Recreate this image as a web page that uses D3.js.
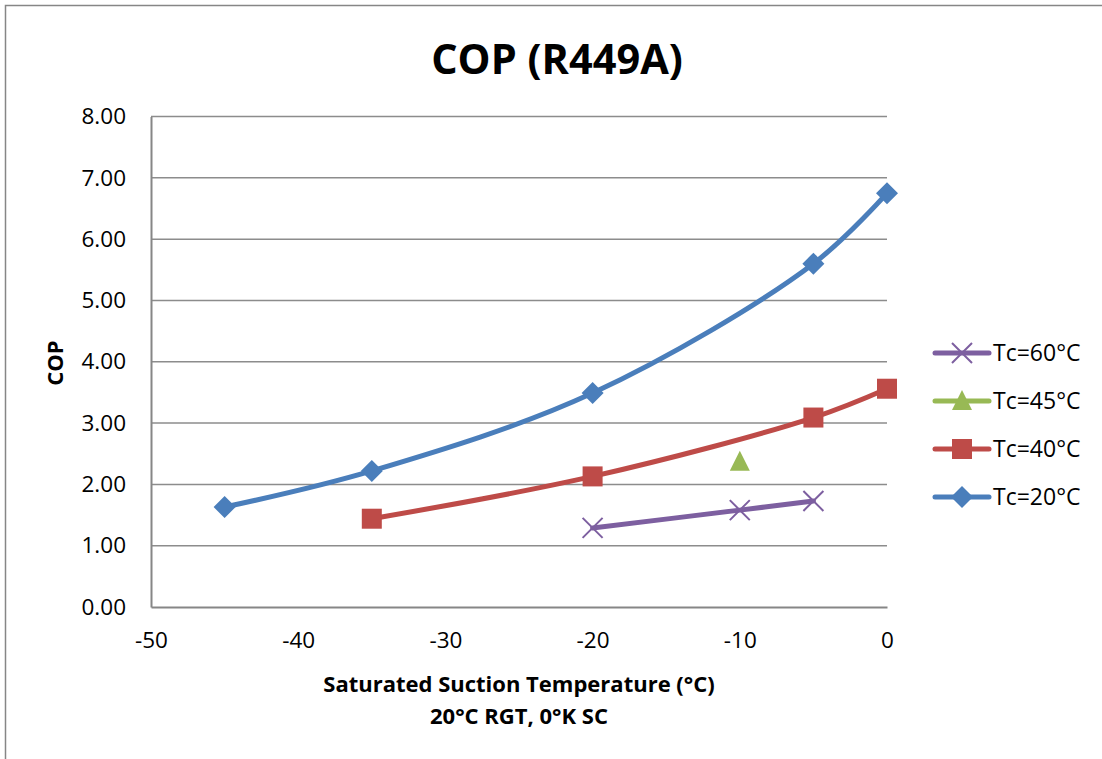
<!DOCTYPE html>
<html>
<head>
<meta charset="utf-8">
<script src="https://cdn.jsdelivr.net/npm/d3@7"></script>
<style>
  body { margin: 0; background: #fff; }
  text { fill: #000; }
</style>
</head>
<body>
<div id="chart"></div>
<script>
// data
const seriesNames = ["Tc=60°C", "Tc=45°C", "Tc=40°C", "Tc=20°C"];
const tc60 = [[-20, 1.29], [-10, 1.58], [-5, 1.73]];
const tc45 = [[-10, 2.37]];
const tc40 = [[-35, 1.44], [-20, 2.13], [-5, 3.09], [0, 3.56]];
const tc20 = [[-45, 1.63], [-35, 2.22], [-20, 3.49], [-5, 5.60], [0, 6.75]];
const xTicks = [-50, -40, -30, -20, -10, 0];
const yTicks = [0, 1, 2, 3, 4, 5, 6, 7, 8];

const W = 1102, H = 759;
const margin = { top: 116.5, right: 215, bottom: 152, left: 151 },
      width = 887 - margin.left,
      height = 607 - margin.top;

const svg = d3.select("#chart").append("svg")
    .attr("width", W).attr("height", H);

// outer frame
svg.append("rect")
    .attr("x", 5.5).attr("y", 5.5)
    .attr("width", W).attr("height", H)
    .attr("fill", "none").attr("stroke", "#868686").attr("stroke-width", 1.5);

const g = svg.append("g")
    .attr("transform", "translate(" + margin.left + "," + margin.top + ")");

const x = d3.scaleLinear().domain([-50, 0]).range([0, width]);
const y = d3.scaleLinear().domain([0, 8]).range([height, 0]);

// gridlines
g.selectAll(".grid").data(yTicks.filter(d => d > 0)).join("line")
    .attr("class", "grid")
    .attr("x1", 0).attr("x2", width)
    .attr("y1", d => y(d)).attr("y2", d => y(d))
    .attr("stroke", "#8c8c8c").attr("stroke-width", 1.5);

// axes
const yAxis = g.append("g")
    .call(d3.axisLeft(y).tickValues(yTicks).tickFormat(d3.format(".2f")).tickSize(0).tickPadding(25));
const xAxis = g.append("g")
    .attr("transform", `translate(0,${height})`)
    .call(d3.axisBottom(x).tickValues(xTicks).tickFormat(d => d).tickSize(0).tickPadding(25));
[yAxis, xAxis].forEach(a => {
  a.select(".domain").attr("stroke", "#868686").attr("stroke-width", 2);
  a.selectAll("text")
    .style("font-family", "'Open Sans', sans-serif")
    .style("font-size", "22.5px")
    .attr("fill", "#000");
});
xAxis.selectAll("text").text(d => d === 0 ? "0" : "-" + Math.abs(d));

// title and axis titles
const titleFont = "'Open Sans', sans-serif";
svg.append("text")
    .attr("x", 557).attr("y", 74)
    .attr("text-anchor", "middle")
    .style("font-family", titleFont)
    .style("font-weight", "bold")
    .style("font-size", "41.5px")
    .text("COP (R449A)");

svg.append("text")
    .attr("transform", "translate(63,363) rotate(-90)")
    .attr("text-anchor", "middle")
    .style("font-family", titleFont)
    .style("font-weight", "bold")
    .style("font-size", "22px")
    .text("COP");

svg.append("text")
    .attr("x", 519).attr("y", 692)
    .attr("text-anchor", "middle")
    .style("font-family", titleFont)
    .style("font-weight", "bold")
    .style("font-size", "22px")
    .text("Saturated Suction Temperature (°C)");

svg.append("text")
    .attr("x", 519).attr("y", 724)
    .attr("text-anchor", "middle")
    .style("font-family", titleFont)
    .style("font-weight", "bold")
    .style("font-size", "22px")
    .text("20°C RGT, 0°K SC");

// series
const series = [
  { name: seriesNames[0], data: tc60, color: "#7D5FA0", marker: "x" },
  { name: seriesNames[1], data: tc45, color: "#98B955", marker: "triangle" },
  { name: seriesNames[2], data: tc40, color: "#BE4B48", marker: "square" },
  { name: seriesNames[3], data: tc20, color: "#4A7EBB", marker: "diamond" }
];

const line = d3.line()
    .x(d => x(d[0])).y(d => y(d[1]))
    .curve(d3.curveCatmullRom.alpha(0.5));

function drawMarker(sel, type, color) {
  if (type === "x") {
    sel.append("path")
      .attr("d", "M-10,-10L10,10M-10,10L10,-10")
      .attr("stroke", color).attr("stroke-width", 2).attr("fill", "none");
  } else if (type === "triangle") {
    sel.append("path").attr("d", "M0,-11L10,9L-10,9Z").attr("fill", color);
  } else if (type === "square") {
    sel.append("rect").attr("x", -10).attr("y", -10).attr("width", 20).attr("height", 20).attr("fill", color);
  } else {
    sel.append("path").attr("d", "M0,-11L11,0L0,11L-11,0Z").attr("fill", color);
  }
}

series.forEach(s => {
  if (s.data.length > 1) {
    g.append("path")
      .datum(s.data)
      .attr("d", line)
      .attr("fill", "none")
      .attr("stroke", s.color)
      .attr("stroke-width", 5)
      .attr("stroke-linecap", "round");
  }
});
series.slice().reverse().forEach(s => {
  s.data.forEach(d => {
    const m = g.append("g").attr("transform", `translate(${x(d[0])},${y(d[1])})`);
    drawMarker(m, s.marker, s.color);
  });
});

// legend
const legend = svg.append("g").attr("transform", "translate(935,353)");
series.forEach((s, i) => {
  const row = legend.append("g").attr("transform", `translate(0,${i * 48})`);
  row.append("line")
    .attr("x1", 0).attr("x2", 54).attr("y1", 0).attr("y2", 0)
    .attr("stroke", s.color).attr("stroke-width", 5).attr("stroke-linecap", "round");
  const m = row.append("g").attr("transform", "translate(27,0)");
  drawMarker(m, s.marker, s.color);
  row.append("text")
    .attr("x", 58).attr("y", 0).attr("dy", "0.35em")
    .style("font-family", titleFont)
    .style("font-size", "23px")
    .text(s.name);
});
</script>
</body>
</html>
